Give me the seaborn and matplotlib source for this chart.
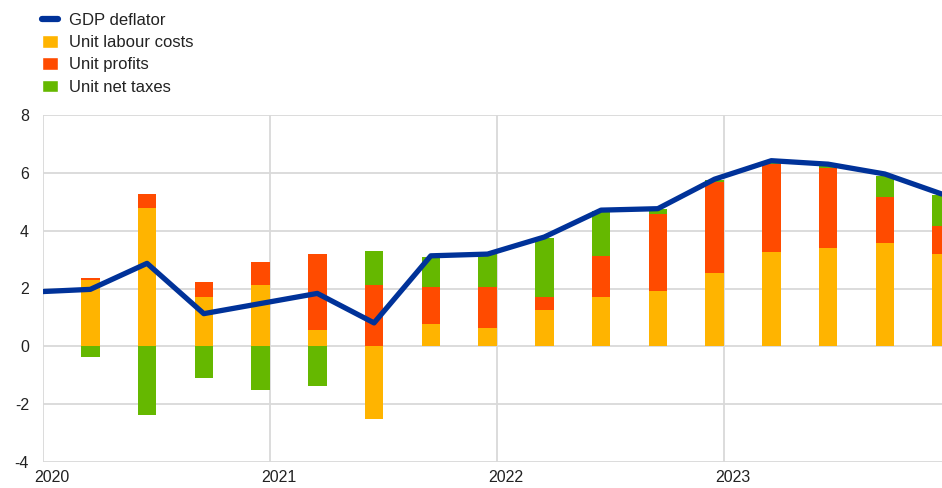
"""
GDP deflator and its income-side contributions (y/y % change, quarterly).
Stacked bars for unit labour costs / profits / net taxes, deflator as a line.
"""

import numpy as np
import matplotlib.pyplot as plt
import matplotlib.transforms as mtransforms
from matplotlib.lines import Line2D
from matplotlib.patches import Patch
import seaborn as sns

# ─── Data ───────────────────────────────────────────────────────────────────────

line_quarters = ["2019Q4",
                 "2020Q1", "2020Q2", "2020Q3", "2020Q4",
                 "2021Q1", "2021Q2", "2021Q3", "2021Q4",
                 "2022Q1", "2022Q2", "2022Q3", "2022Q4",
                 "2023Q1", "2023Q2", "2023Q3", "2023Q4"]
gdp_deflator = [1.88,
                1.97, 2.87, 1.13, 1.48,
                1.83, 0.81, 3.13, 3.19,
                3.78, 4.71, 4.76, 5.78,
                6.42, 6.30, 5.96, 5.27]

bar_quarters = line_quarters[1:]
unit_labour_costs = [2.29, 4.79, 1.71, 2.11,
                     0.56, -2.50, 0.78, 0.64,
                     1.27, 1.71, 1.93, 2.55,
                     3.26, 3.40, 3.57, 3.18]
unit_profits = [0.09, 0.47, 0.53, 0.80,
                2.62, 2.11, 1.28, 1.42,
                0.44, 1.43, 2.63, 3.14,
                3.06, 2.78, 1.60, 0.98]
unit_net_taxes = [-0.38, -2.39, -1.08, -1.50,
                  -1.36, 1.19, 1.02, 1.15,
                  2.04, 1.54, 0.20, 0.06,
                  0.05, 0.05, 0.72, 1.07]

year_ticks = [2020, 2021, 2022, 2023]
y_ticks = [-4, -2, 0, 2, 4, 6, 8]

BLUE = "#003299"
YELLOW = "#FFB400"
ORANGE = "#FF4B00"
GREEN = "#65B800"
GRID = "#d9d9d9"


def quarter_to_x(label):
    """Place a quarter in the middle of its last month (fractional years)."""
    year, q = int(label[:4]), int(label[-1])
    return year + (3 * q - 0.5) / 12


# ─── Figure ─────────────────────────────────────────────────────────────────────

sns.set_theme(style="whitegrid")
plt.rcParams["font.family"] = ["Liberation Sans", "DejaVu Sans"]
plt.rcParams["axes.unicode_minus"] = False

fig = plt.figure(figsize=(9.42, 4.88), dpi=100)
ax = fig.add_axes([43 / 942, 1 - 462 / 488, 1 - 43 / 942, (462 - 115) / 488])

x_bar = np.array([quarter_to_x(q) for q in bar_quarters])
x_line = np.array([quarter_to_x(q) for q in line_quarters])
width = 18.5 / 227

# Stack positives upward and negatives downward, in series order
pos_base = np.zeros(len(x_bar))
neg_base = np.zeros(len(x_bar))
for values, color in [(unit_labour_costs, YELLOW),
                      (unit_profits, ORANGE),
                      (unit_net_taxes, GREEN)]:
    v = np.array(values)
    bottom = np.where(v >= 0, pos_base, neg_base)
    ax.bar(x_bar, v, bottom=bottom, width=width, color=color,
           linewidth=0, zorder=2)
    pos_base += np.clip(v, 0, None)
    neg_base += np.clip(v, None, 0)

sns.lineplot(x=x_line, y=gdp_deflator, ax=ax, color=BLUE, linewidth=3.8,
             zorder=3)

# ─── Axes styling ───────────────────────────────────────────────────────────────

ax.set_xlim(2020, 2020 + (942 - 43) / 227)
ax.set_ylim(-4, 8)
ax.set_xticks(year_ticks)
ax.set_xticklabels([str(y) for y in year_ticks])
ax.set_yticks(y_ticks)

ax.grid(True, color=GRID, linewidth=1.3)
for spine in ax.spines.values():
    spine.set_visible(False)
ax.tick_params(axis="both", length=0, labelsize=11.5, labelcolor="#222222")
ax.tick_params(axis="y", pad=10)
ax.tick_params(axis="x", pad=6)

offset = mtransforms.ScaledTranslation(9 / 100, 0, fig.dpi_scale_trans)
for lbl in ax.get_xticklabels():
    lbl.set_transform(lbl.get_transform() + offset)

# ─── Legend ─────────────────────────────────────────────────────────────────────

handles = [
    Line2D([0], [0], color=BLUE, linewidth=4.5),
    Patch(facecolor=YELLOW),
    Patch(facecolor=ORANGE),
    Patch(facecolor=GREEN),
]
labels = ["GDP deflator", "Unit labour costs", "Unit profits", "Unit net taxes"]
fig.legend(handles, labels, loc="upper left",
           bbox_to_anchor=(42 / 942, 1 - 13 / 488),
           frameon=False, fontsize=12, borderpad=0, borderaxespad=0,
           handlelength=0.95, handleheight=0.8, handletextpad=0.65,
           labelspacing=0.42, labelcolor="#222222")

fig.savefig("out.png", dpi=100)
plt.close(fig)
